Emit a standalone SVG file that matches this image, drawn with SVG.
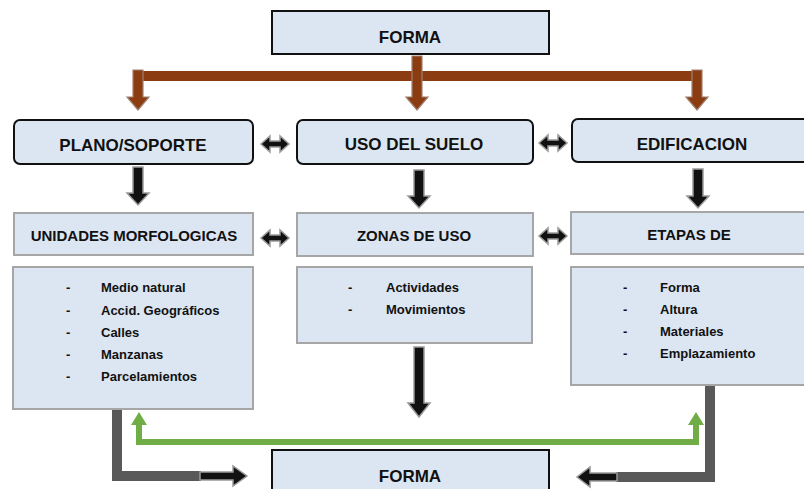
<svg xmlns="http://www.w3.org/2000/svg" width="804" height="489" viewBox="0 0 804 489">
<defs>
<style>
.t{font-family:"Liberation Sans",Arial,sans-serif;font-weight:bold;fill:#111}
.h{font-size:17px;text-anchor:middle}
.m{font-size:15px;text-anchor:middle}
.l{font-size:13px}
.main{fill:#dce6f2;stroke:#111;stroke-width:2}
.sub{fill:#dce6f2;stroke:#a6a6a6;stroke-width:2}
.blk{fill:#111;stroke:#9a9a9a;stroke-width:1.5}
.brn{fill:#8b3c10;stroke:#a08070;stroke-width:1.2}
</style>
<path id="dbl" d="M-14,0 L-5,-8 L-5,-3 L5,-3 L5,-8 L14,0 L5,8 L5,3 L-5,3 L-5,8 Z"/>
</defs>
<rect width="804" height="489" fill="#fff"/>

<g id="connectors">
  <!-- brown distribution -->
  <rect x="138" y="71" width="562" height="10" fill="#8b3c10"/>
  <path class="brn" d="M133,70 L143,70 L143,97 L149,97 L138,110 L127,97 L133,97 Z"/>
  <path class="brn" d="M412,56 L422,56 L422,97 L428,97 L417,110 L406,97 L412,97 Z"/>
  <path class="brn" d="M692,70 L702,70 L702,97 L708,97 L697,110 L686,97 L692,97 Z"/>
  <!-- double arrows -->
  <use href="#dbl" x="275" y="144" class="blk"/>
  <use href="#dbl" x="553" y="143" class="blk"/>
  <use href="#dbl" x="275" y="238" class="blk"/>
  <use href="#dbl" x="553" y="236" class="blk"/>
  <!-- down arrows row2 to row3 -->
  <path class="blk" d="M133,167 L143,167 L143,193 L149,193 L138,205 L127,193 L133,193 Z"/>
  <path class="blk" d="M414,170 L424,170 L424,196 L430,196 L419,208 L408,196 L414,196 Z"/>
  <path class="blk" d="M693,169 L703,169 L703,196 L709,196 L698,208 L687,196 L693,196 Z"/>
  <!-- middle long arrow -->
  <path class="blk" d="M414,347 L424,347 L424,403 L430,403 L419,417 L408,403 L414,403 Z"/>
  <!-- green feedback -->
  <polyline points="139,424 139,442 696,442 696,424" fill="none" stroke="#70ad47" stroke-width="6"/>
  <path d="M131,425 L139,412 L147,425 Z" fill="#70ad47"/>
  <path d="M688,425 L696,412 L704,425 Z" fill="#70ad47"/>
  <!-- gray L connectors -->
  <polyline points="117,409 117,476 201,476" fill="none" stroke="#595959" stroke-width="10"/>
  <path class="blk" d="M200,472 L233,472 L233,466 L247,476 L233,486 L233,480 L200,480 Z"/>
  <polyline points="710,385 710,477 616,477" fill="none" stroke="#595959" stroke-width="10"/>
  <path class="blk" d="M617,473 L590,473 L590,467 L577,477 L590,487 L590,481 L617,481 Z"/>
</g>

<g id="forma-top">
  <rect class="main" x="272" y="11" width="277" height="43"/>
  <text class="t h" x="410" y="43">FORMA</text>
</g>
<g id="plano">
  <rect class="main" x="14" y="120" width="239" height="44" rx="6"/>
  <text class="t h" x="133" y="151">PLANO/SOPORTE</text>
</g>
<g id="uso">
  <rect class="main" x="297" y="120" width="236" height="44" rx="6"/>
  <text class="t h" x="414" y="150">USO DEL SUELO</text>
</g>
<g id="edificacion">
  <rect class="main" x="572" y="119" width="240" height="43" rx="6"/>
  <text class="t h" x="692" y="150">EDIFICACION</text>
</g>
<g id="unidades">
  <rect class="sub" x="14" y="213" width="239" height="42"/>
  <text class="t m" x="134" y="241">UNIDADES MORFOLOGICAS</text>
</g>
<g id="zonas">
  <rect class="sub" x="297" y="213" width="236" height="43"/>
  <text class="t m" x="414" y="241">ZONAS DE USO</text>
</g>
<g id="etapas">
  <rect class="sub" x="571" y="212" width="240" height="42"/>
  <text class="t m" x="689" y="240">ETAPAS DE</text>
</g>
<g id="lista-unidades">
  <rect class="sub" x="13" y="267" width="240" height="142"/>
  <g class="t l">
    <text x="66" y="292">-</text><text x="101" y="292">Medio natural</text>
    <text x="66" y="315">-</text><text x="101" y="315">Accid. Geográficos</text>
    <text x="66" y="337">-</text><text x="101" y="337">Calles</text>
    <text x="66" y="359">-</text><text x="101" y="359">Manzanas</text>
    <text x="66" y="381">-</text><text x="101" y="381">Parcelamientos</text>
  </g>
</g>
<g id="lista-zonas">
  <rect class="sub" x="297" y="267" width="235" height="76"/>
  <g class="t l">
    <text x="348" y="292">-</text><text x="386" y="292">Actividades</text>
    <text x="348" y="314">-</text><text x="386" y="314">Movimientos</text>
  </g>
</g>
<g id="lista-etapas">
  <rect class="sub" x="571" y="267" width="240" height="118"/>
  <g class="t l">
    <text x="623" y="292">-</text><text x="660" y="292">Forma</text>
    <text x="623" y="314">-</text><text x="660" y="314">Altura</text>
    <text x="623" y="336">-</text><text x="660" y="336">Materiales</text>
    <text x="623" y="358">-</text><text x="660" y="358">Emplazamiento</text>
  </g>
</g>
<g id="forma-bottom">
  <rect class="main" x="272" y="450" width="277" height="50"/>
  <text class="t h" x="410" y="482">FORMA</text>
</g>
</svg>
